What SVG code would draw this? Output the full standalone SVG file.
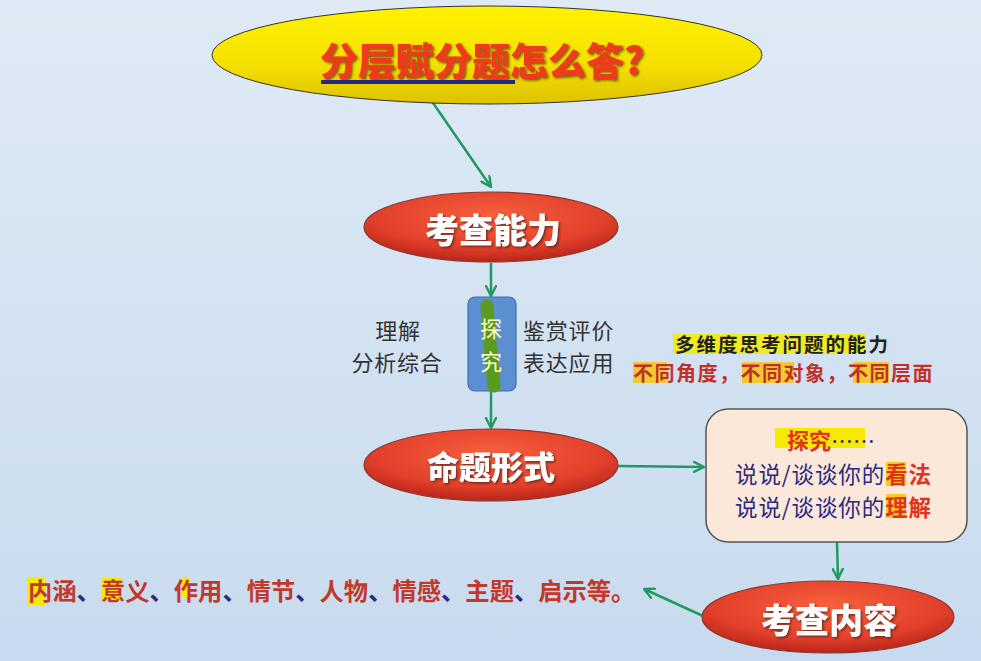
<svg xmlns="http://www.w3.org/2000/svg" width="981" height="661" viewBox="0 0 981 661">
<defs>
<linearGradient id="bg" x1="0" y1="0" x2="0" y2="1">
<stop offset="0" stop-color="#dfeaf5"/>
<stop offset="1" stop-color="#c8dbee"/>
</linearGradient>
<linearGradient id="yel" x1="0" y1="0" x2="0" y2="1">
<stop offset="0" stop-color="#fff200"/>
<stop offset="0.6" stop-color="#f5e000"/>
<stop offset="1" stop-color="#dcc200"/>
</linearGradient>
<radialGradient id="red" cx="0.5" cy="0.35" r="0.65">
<stop offset="0" stop-color="#f8603e"/>
<stop offset="0.7" stop-color="#e2402a"/>
<stop offset="1" stop-color="#b8241a"/>
</radialGradient>
<filter id="sh" x="-10%" y="-30%" width="120%" height="160%">
<feDropShadow dx="1.5" dy="1.5" stdDeviation="0.8" flood-color="#3a1a10" flood-opacity="0.7"/>
</filter>
<marker id="ah" viewBox="0 0 12 12" refX="11" refY="6" markerWidth="12" markerHeight="12" markerUnits="userSpaceOnUse" orient="auto">
<path d="M1,1 L11,6 L1,11" fill="none" stroke="#1f9a63" stroke-width="2.4" stroke-linecap="round" stroke-linejoin="round"/>
</marker>
<style>
.cjk{font-family:"Noto Sans CJK SC","Noto Sans",sans-serif;}
.node{stroke:#8a3a30;stroke-width:1.2;fill:url(#red);}
.nt{font-weight:900;fill:#ffffff;text-anchor:middle;dominant-baseline:central;}
.side{font-size:22px;fill:#333333;dominant-baseline:central;letter-spacing:0.8px;}
.hl{fill:#f5ea00;}
.hlo{fill:#f7c400;}
.conn{stroke:#1f9a63;stroke-width:2.5;fill:none;marker-end:url(#ah);}
.blue{fill:#2a2a85;}
.redb{fill:#e0321e;font-weight:700;}
</style>
</defs>
<rect width="981" height="661" fill="url(#bg)"/>

<g id="connectors">
<path class="conn" d="M420,84 L491,187"/>
<path class="conn" d="M491,263 L491,296"/>
<path class="conn" d="M491,391 L491,428"/>
<path class="conn" d="M618,466 L704,467"/>
<path class="conn" d="M837,542 L838,579"/>
<path class="conn" d="M703,616 L644,589"/>
</g>

<g id="title">
<ellipse cx="487" cy="55" rx="275" ry="49" fill="url(#yel)" stroke="#333" stroke-width="1"/>
<text class="cjk" x="320" y="58" font-size="38" font-weight="900" fill="#ee3a1c" dominant-baseline="central" filter="url(#sh)">分层赋分题怎么答?</text>
<rect x="321" y="80" width="194" height="4" fill="#1c2a80"/>
</g>

<g id="ability">
<ellipse class="node" cx="491" cy="227" rx="127" ry="35"/>
<text class="cjk nt" x="493" y="228" font-size="34" filter="url(#sh)">考查能力</text>
</g>

<g id="explore">
<rect x="468" y="297" width="48" height="94" rx="7" fill="#5b8fd0" stroke="#3d6fb0" stroke-width="1.2"/>
<path d="M487,306 Q490,345 494,386" stroke="#5a9a1e" stroke-width="13" fill="none" stroke-linecap="round"/>
<text class="cjk" x="491" y="327" font-size="22" fill="#ffffc8" text-anchor="middle" dominant-baseline="central">探</text>
<text class="cjk" x="491" y="360" font-size="22" fill="#ffffc8" text-anchor="middle" dominant-baseline="central">究</text>
</g>

<g id="left-abilities">
<text class="cjk side" x="398" y="329" text-anchor="middle">理解</text>
<text class="cjk side" x="397" y="361" text-anchor="middle">分析综合</text>
</g>

<g id="right-abilities">
<text class="cjk side" x="523" y="329">鉴赏评价</text>
<text class="cjk side" x="523" y="361">表达应用</text>
</g>

<g id="multi">
<rect class="hl" x="673" y="334" width="192" height="20" opacity="0.85"/>
<text class="cjk" x="675" y="343" font-size="19.5" font-weight="700" fill="#222" letter-spacing="2" dominant-baseline="central">多维度思考问题的能力</text>
<rect class="hlo" x="633" y="362" width="34" height="21" opacity="0.8"/>
<rect class="hlo" x="742" y="362" width="52" height="21" opacity="0.8"/>
<rect class="hlo" x="853" y="362" width="36" height="21" opacity="0.8"/>
<text class="cjk" x="633" y="372" font-size="20" font-weight="700" fill="#c0302a" letter-spacing="1.5" dominant-baseline="central">不同角度，不同对象，不同层面</text>
</g>

<g id="form">
<ellipse class="node" cx="491" cy="465" rx="127" ry="36"/>
<text class="cjk nt" x="491" y="465" font-size="32" filter="url(#sh)">命题形式</text>
</g>

<g id="question-box">
<rect x="706" y="409" width="261" height="133" rx="22" fill="#fce8d8" stroke="#555" stroke-width="1.5"/>
<rect class="hl" x="775" y="428" width="90" height="20"/>
<text class="cjk" x="787" y="439" font-size="22" dominant-baseline="central"><tspan class="redb">探究</tspan><tspan class="blue">……</tspan></text>
<rect class="hlo" x="886" y="462" width="20" height="24" opacity="0.85"/>
<text class="cjk" x="735" y="473" font-size="22.5" letter-spacing="0.9" dominant-baseline="central"><tspan class="blue">说说/谈谈你的</tspan><tspan class="redb">看法</tspan></text>
<rect class="hlo" x="886" y="494" width="20" height="24" opacity="0.85"/>
<text class="cjk" x="735" y="506" font-size="22.5" letter-spacing="0.9" dominant-baseline="central"><tspan class="blue">说说/谈谈你的</tspan><tspan class="redb">理解</tspan></text>
</g>

<g id="content">
<ellipse class="node" cx="828" cy="617" rx="126" ry="36"/>
<text class="cjk nt" x="829" y="618" font-size="34" filter="url(#sh)">考查内容</text>
</g>

<g id="content-list">
<rect class="hl" x="27" y="577" width="19" height="28"/>
<rect class="hl" x="102" y="578" width="20" height="22"/>
<rect class="hl" x="181" y="577" width="8" height="21"/>
<text class="cjk" x="28" y="589" font-size="24.3" font-weight="700" fill="#c0392b" dominant-baseline="central">内涵<tspan class="blue">、</tspan>意义<tspan class="blue">、</tspan>作用<tspan class="blue">、</tspan>情节<tspan class="blue">、</tspan>人物<tspan class="blue">、</tspan>情感<tspan class="blue">、</tspan>主题<tspan class="blue">、</tspan>启示等。</text>
</g>
</svg>
